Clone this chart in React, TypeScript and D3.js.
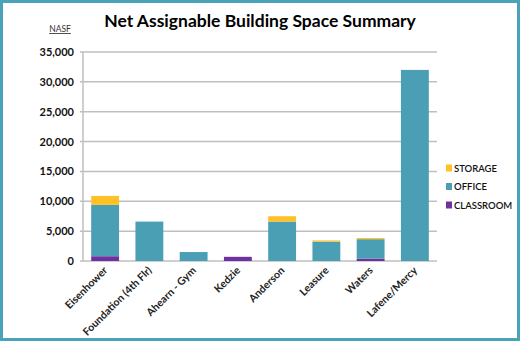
import React from "react";
import * as d3 from "d3";

const categories = ["Eisenhower", "Foundation (4th Flr)", "Ahearn - Gym", "Kedzie", "Anderson", "Leasure", "Waters", "Lafene/Mercy"];
const classroom = [800, 0, 0, 700, 0, 0, 400, 0];
const office = [8600, 6600, 1500, 0, 6600, 3250, 3250, 32000];
const storage = [1500, 0, 0, 0, 900, 200, 200, 0];
const seriesNames = ["CLASSROOM", "OFFICE", "STORAGE"];
const seriesColors = ["#7030A0", "#4A9FB5", "#FFC125"];
const yTicks = [0, 5000, 10000, 15000, 20000, 25000, 30000, 35000];

const W = 520, H = 342;
const M = { left: 83, right: 437, top: 52, bottom: 261 };

export default function App() {
  const rows = categories.map((c, i) => ({ cat: c, CLASSROOM: classroom[i], OFFICE: office[i], STORAGE: storage[i] }));
  const stack = d3.stack<any>().keys(seriesNames)(rows);
  const x = d3.scaleBand().domain(categories).range([M.left, M.right]).paddingInner(0.37).paddingOuter(0.185);
  const y = d3.scaleLinear().domain([0, 35000]).range([M.bottom, M.top]);
  const fmt = d3.format(",");
  const font = "Lato, 'Open Sans', sans-serif";
  const legendOrder = [2, 1, 0];
  return (
    <div style={{ position: "fixed", left: 0, top: 0 }}>
      <svg width={W} height={H} style={{ display: "block", background: "#fff" }} fontFamily={font}>
        <rect x={1.5} y={1.5} width={W - 3} height={H - 4} fill="#fff" stroke="#4BA3B8" strokeWidth={3} />
        <text x={260} y={27} textAnchor="middle" fontSize={17.5} fontWeight="bold" fill="#000">Net Assignable Building Space Summary</text>
        <text x={60} y={32} textAnchor="middle" fontSize={8.5} fill="#333" textDecoration="underline">NASF</text>
        {yTicks.map(t => (
          <g key={t}>
            <line x1={M.left - 3} x2={M.right} y1={y(t)} y2={y(t)} stroke="#BFBFBF" strokeWidth={1.5} />
            <text x={74} y={y(t) + 4} textAnchor="end" fontSize={11} fontWeight="bold" fill="#111">{fmt(t)}</text>
          </g>
        ))}
        <line x1={M.left} x2={M.left} y1={M.top} y2={M.bottom} stroke="#BFBFBF" strokeWidth={1.5} />
        {stack.map((s, si) => (
          <g key={s.key} fill={seriesColors[si]}>
            {s.map((d, i) => d[1] - d[0] > 0 ? (
              <rect key={i} x={x(categories[i])!} width={x.bandwidth()} y={y(d[1])} height={y(d[0]) - y(d[1])} />
            ) : null)}
          </g>
        ))}
        {categories.map(c => {
          const cx = x(c)! + x.bandwidth() / 2;
          return (
            <text key={c} transform={`translate(${cx + 3},${M.bottom + 10}) rotate(-45)`} textAnchor="end" fontSize={10.5} fontWeight="bold" fill="#222">{c}</text>
          );
        })}
        {legendOrder.map((si, k) => (
          <g key={si} transform={`translate(446,${168 + k * 18.5})`}>
            <rect x={0} y={-3.5} width={6} height={7} fill={seriesColors[si]} />
            <text x={8} y={3.5} fontSize={9.5} fontWeight={600} fill="#111">{seriesNames[si]}</text>
          </g>
        ))}
      </svg>
    </div>
  );
}
